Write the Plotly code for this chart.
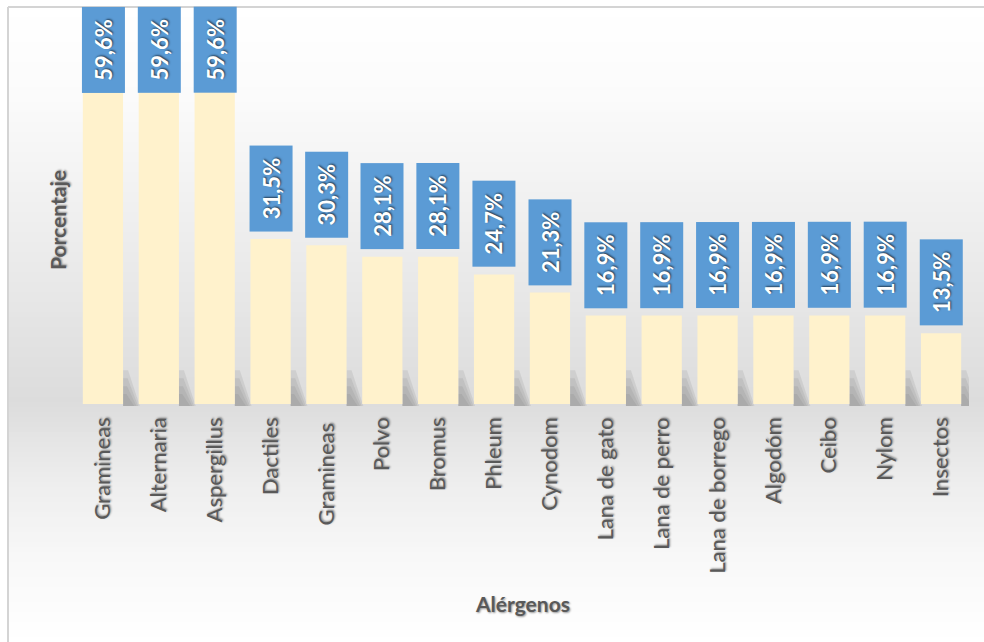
import plotly.graph_objects as go

categories = ["Gramineas", "Alternaria", "Aspergillus", "Dactiles", "Gramineas ", "Polvo",
              "Bromus", "Phleum", "Cynodom", "Lana de gato", "Lana de perro",
              "Lana de borrego", "Algodóm", "Ceibo", "Nylom", "Insectos"]
values = [59.6, 59.6, 59.6, 31.5, 30.3, 28.1, 28.1, 24.7, 21.3, 16.9, 16.9, 16.9, 16.9, 16.9, 16.9, 13.5]
labels = ["59,6%", "59,6%", "59,6%", "31,5%", "30,3%", "28,1%", "28,1%", "24,7%", "21,3%",
          "16,9%", "16,9%", "16,9%", "16,9%", "16,9%", "16,9%", "13,5%"]

W, H = 984, 642
ML, MR, MT, MB = 75, 15, 8, 238
YMAX = 75.6
plot_w = W - ML - MR
plot_h = H - MT - MB
px_per_unit = plot_h / YMAX

def px_x(x):
    return (x - ML) / plot_w
def px_y(y):
    return 1 - (y - MT) / plot_h

FONT = "Lato"
fig = go.Figure()
fig.add_trace(go.Bar(
    x=list(range(len(categories))), y=values,
    marker=dict(color="#FFF2CC", line=dict(width=0)),
    width=0.72, hoverinfo="skip",
))

# background gradient bands (figure pixel coordinates)
stops = [(7, 255), (98, 251), (248, 236), (400, 220), (478, 237), (558, 248), (642, 255)]
def gray_at(y):
    for (y0, g0), (y1, g1) in zip(stops, stops[1:]):
        if y0 <= y <= y1:
            return g0 + (g1 - g0) * (y - y0) / (y1 - y0)
    return 255
shapes = []
step = 5
for y in range(7, H, step):
    g = int(round(gray_at(y + step / 2)))
    shapes.append(dict(type="rect", xref="paper", yref="paper", x0=px_x(8), x1=px_x(W),
                       y0=px_y(min(y + step, H)), y1=px_y(y),
                       fillcolor=f"rgb({g},{g},{g})", line=dict(width=0), layer="below"))
# soft bar shadows (decoration)
for i, v in enumerate(values):
    for k, (hh, ww) in enumerate([(0.085, 0.30), (0.065, 0.27), (0.045, 0.24), (0.025, 0.2)]):
        shapes.append(dict(type="path", xref="x", yref="paper",
                           path=f"M {i+0.36},{-0.005} L {i+0.36+ww},{-0.005} L {i+0.36+ww*0.3},{hh} L {i+0.36},{hh} Z",
                           fillcolor="rgba(110,110,110,0.14)", line=dict(width=0), layer="below"))
# outer border
shapes.append(dict(type="line", xref="paper", yref="paper", x0=px_x(8), x1=px_x(W),
                   y0=px_y(7), y1=px_y(7), line=dict(color="#D4D4D4", width=2), layer="above"))
shapes.append(dict(type="line", xref="paper", yref="paper", x0=px_x(8), x1=px_x(8),
                   y0=px_y(7), y1=px_y(H), line=dict(color="#D4D4D4", width=2), layer="above"))

annotations = []
BOX_H, BOX_W, GAP = 85, 42, 7
for i, (v, t) in enumerate(zip(values, labels)):
    bar_top = MT + plot_h - v * px_per_unit
    box_top = bar_top - GAP - BOX_H
    shift = GAP
    if box_top < MT:
        shift = bar_top - (MT + BOX_H)
    annotations.append(dict(
        x=i, y=v, xref="x", yref="y", text=f"<b>{t}</b>", showarrow=False,
        textangle=-90, xanchor="center", yanchor="bottom", yshift=shift,
        width=BOX_H, height=BOX_W, bgcolor="#5B9BD5", borderpad=0,
        font=dict(family=FONT, size=22, color="white", shadow="1px 1px 2px rgba(0,0,0,0.6)"),
    ))
annotations.append(dict(text="<b>Porcentaje</b>", xref="paper", yref="paper",
                        x=px_x(57), y=px_y(220), showarrow=False, textangle=-90,
                        xanchor="center", yanchor="middle",
                        font=dict(family=FONT, size=21, color="#595959",
                                  shadow="1px 1px 2px rgba(0,0,0,0.4)")))
annotations.append(dict(text="<b>Alérgenos</b>", xref="paper", yref="paper",
                        x=px_x(522), y=px_y(603), showarrow=False,
                        xanchor="center", yanchor="middle",
                        font=dict(family=FONT, size=21, color="#595959",
                                  shadow="1px 1px 2px rgba(0,0,0,0.4)")))

fig.update_layout(
    width=W, height=H, margin=dict(l=ML, r=MR, t=MT, b=MB),
    paper_bgcolor="white", plot_bgcolor="rgba(0,0,0,0)",
    showlegend=False, bargap=0.28,
    shapes=shapes, annotations=annotations,
    xaxis=dict(tickmode="array", tickvals=list(range(len(categories))), ticktext=categories,
               tickangle=-90, range=[-0.5, len(categories) - 0.5], showgrid=False,
               showline=False, zeroline=False, ticks="", ticklen=0, ticklabelstandoff=8,
               tickfont=dict(family=FONT, size=22, color="#595959",
                             shadow="1px 1px 2px rgba(0,0,0,0.45)")),
    yaxis=dict(range=[0, YMAX], showgrid=False, showticklabels=False, zeroline=False,
               showline=False, ticks=""),
)
fig.write_html("out.html", config={"displayModeBar": False},
               post_script="document.body.style.margin='0';document.body.style.overflow='hidden';")
